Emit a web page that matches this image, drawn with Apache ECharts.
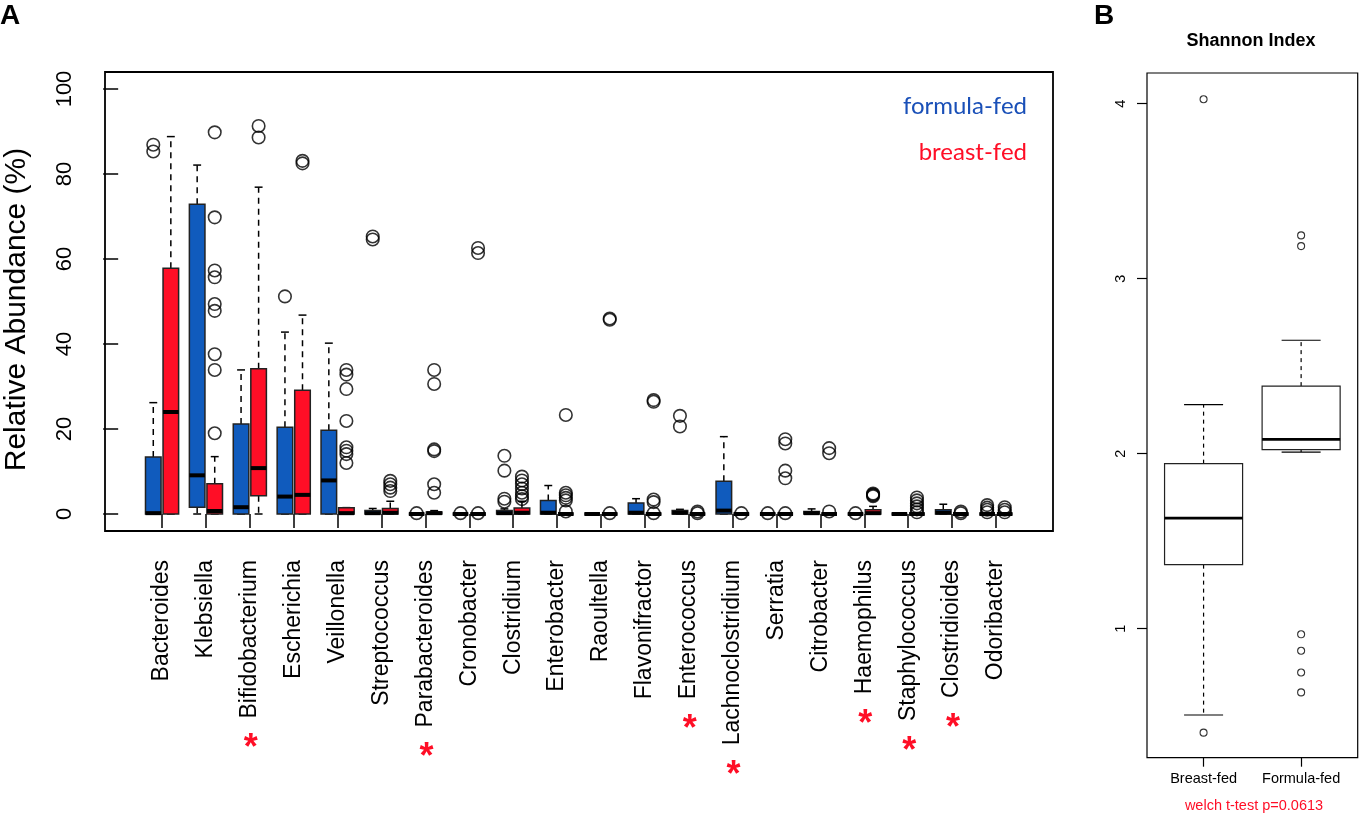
<!DOCTYPE html>
<html>
<head>
<meta charset="utf-8">
<script src="https://cdn.jsdelivr.net/npm/echarts@6/dist/echarts.min.js"></script>
<style>
html,body{margin:0;padding:0;background:#fff;}
#main{width:1359px;height:815px;}
</style>
</head>
<body>
<div id="main"></div>
<script>
// ---------- Panel A data ----------
const genera = ['Bacteroides','Klebsiella','Bifidobacterium','Escherichia','Veillonella','Streptococcus','Parabacteroides','Cronobacter','Clostridium','Enterobacter','Raoultella','Flavonifractor','Enterococcus','Lachnoclostridium','Serratia','Citrobacter','Haemophilus','Staphylococcus','Clostridioides','Odoribacter'];
const significant = ['Bifidobacterium','Parabacteroides','Enterococcus','Lachnoclostridium','Haemophilus','Staphylococcus','Clostridioides'];
// [min, q1, median, q3, max]
const formulaStats = [
  [0, 0, 0.2, 13.4, 26.2],
  [0, 1.6, 9.1, 72.9, 82.1],
  [0, 0, 1.6, 21.2, 33.9],
  [0, 0, 4.1, 20.4, 42.8],
  [0, 0, 7.9, 19.7, 40.2],
  [0, 0, 0.2, 0.8, 1.3],
  [0, 0, 0, 0, 0],
  [0, 0, 0, 0, 0],
  [0, 0, 0.2, 0.8, 1.2],
  [0, 0, 0.3, 3.2, 6.7],
  [0, 0, 0, 0, 0],
  [0, 0, 0.3, 2.6, 3.6],
  [0, 0, 0.3, 0.8, 1.1],
  [0, 0, 0.8, 7.7, 18.2],
  [0, 0, 0, 0, 0],
  [0, 0, 0.2, 0.6, 1.2],
  [0, 0, 0, 0, 0],
  [0, 0, 0, 0, 0],
  [0, 0, 0.3, 1.0, 2.3],
  [0, 0, 0, 0, 0]
];
const breastStats = [
  [0, 0, 24.0, 57.8, 88.8],
  [0, 0, 0.7, 7.1, 13.5],
  [0, 4.3, 10.8, 34.2, 76.9],
  [0, 0, 4.5, 29.1, 46.8],
  [0, 0, 0.2, 1.5, 1.5],
  [0, 0, 0.3, 1.3, 3.0],
  [0, 0, 0.2, 0.5, 0.8],
  [0, 0, 0, 0, 0],
  [0, 0, 0.3, 1.4, 3.0],
  [0, 0, 0, 0, 0],
  [0, 0, 0, 0, 0],
  [0, 0, 0, 0, 0],
  [0, 0, 0, 0, 0],
  [0, 0, 0, 0, 0],
  [0, 0, 0, 0, 0],
  [0, 0, 0, 0, 0],
  [0, 0, 0.2, 1.0, 1.8],
  [0, 0, 0, 0, 0],
  [0, 0, 0, 0, 0],
  [0, 0, 0, 0, 0]
];
const formulaOutliers = [
  [86.9, 85.3], [], [], [51.2], [], [65.3, 64.6], [0.2], [0.2],
  [13.7, 10.2, 3.6, 2.9], [], [], [], [23.1, 20.6], [], [0.2], [], [0.2], [], [],
  [2.1, 1.5, 1.0, 0.4]
];
const breastOutliers = [
  [],
  [89.8, 69.8, 57.3, 55.7, 49.4, 47.8, 37.6, 33.9, 19.0],
  [91.3, 88.6],
  [83.1, 82.5],
  [33.9, 32.8, 29.4, 21.9, 15.7, 14.9, 14.1, 12.0],
  [7.8, 7.0, 6.2, 5.4],
  [33.9, 30.6, 15.2, 14.8, 7.0, 5.0],
  [62.6, 61.4, 0.2],
  [8.8, 7.9, 7.0, 6.0, 5.0, 4.2, 3.5],
  [23.3, 5.0, 4.4, 3.8, 3.2, 0.6],
  [46.0, 45.7, 0.2],
  [26.8, 26.4, 3.4, 2.8, 0.2],
  [0.6, 0.2],
  [0.2],
  [17.6, 16.6, 10.2, 8.4, 0.2],
  [15.5, 14.3, 0.6],
  [4.8, 4.6, 4.4, 4.2],
  [3.9, 3.2, 2.5, 1.8, 1.1, 0.4],
  [0.6, 0.2],
  [1.6, 1.0, 0.4]
];
const yTicksA = [0, 20, 40, 60, 80, 100];

// ---------- Panel B data ----------
const shannonGroups = ['Breast-fed', 'Formula-fed'];
const shannonStats = [
  [0.507, 1.366, 1.632, 1.943, 2.28],
  [2.009, 2.023, 2.082, 2.386, 2.648]
];
const shannonOutliers = [
  [4.025, 0.406],
  [3.247, 3.186, 0.968, 0.874, 0.750, 0.636]
];
const yTicksB = [1, 2, 3, 4];

// ---------- styling ----------
const BLUE = '#105bbd';
const RED = '#ff0e26';
const FONT = '"Liberation Sans", Arial, sans-serif';

function boxRenderer(boxW, capW, fill, lineW, medW, dash) {
  return function (params, api) {
    const x = api.value(0);
    const pMin = api.coord([x, api.value(1)]);
    const pQ1 = api.coord([x, api.value(2)]);
    const pMed = api.coord([x, api.value(3)]);
    const pQ3 = api.coord([x, api.value(4)]);
    const pMax = api.coord([x, api.value(5)]);
    const hw = api.size([boxW, 0])[0] / 2;
    const hc = api.size([capW, 0])[0] / 2;
    const cx = pMed[0];
    const black = '#000';
    return {
      type: 'group',
      children: [
        {type: 'line', shape: {x1: cx, y1: pQ3[1], x2: cx, y2: pMax[1]}, style: {stroke: black, lineWidth: lineW, lineDash: dash}},
        {type: 'line', shape: {x1: cx, y1: pQ1[1], x2: cx, y2: pMin[1]}, style: {stroke: black, lineWidth: lineW, lineDash: dash}},
        {type: 'line', shape: {x1: cx - hc, y1: pMax[1], x2: cx + hc, y2: pMax[1]}, style: {stroke: black, lineWidth: lineW}},
        {type: 'line', shape: {x1: cx - hc, y1: pMin[1], x2: cx + hc, y2: pMin[1]}, style: {stroke: black, lineWidth: lineW}},
        {type: 'rect', shape: {x: cx - hw, y: pQ3[1], width: 2 * hw, height: pQ1[1] - pQ3[1]}, style: {fill: fill, stroke: '#222', lineWidth: lineW}},
        {type: 'line', shape: {x1: cx - hw, y1: pMed[1], x2: cx + hw, y2: pMed[1]}, style: {stroke: black, lineWidth: medW}}
      ]
    };
  };
}

const OFF = 0.2;
function boxData(stats, off) { return stats.map((s, i) => [i + 1 + off].concat(s)); }
function outData(outs, off) {
  const d = [];
  outs.forEach((arr, i) => arr.forEach(v => d.push([i + 1 + off, v])));
  return d;
}

const catPos = genera.map((_, i) => i + 1);
const grpPos = shannonGroups.map((_, i) => i + 1);

const baseGraphics = [
  {type: 'text', id: 'lblA', x: 0, y: 16, style: {text: 'A', font: 'bold 28px ' + FONT, fill: '#000', align: 'left', verticalAlign: 'middle'}},
  {type: 'text', id: 'lblB', x: 1094, y: 16, style: {text: 'B', font: 'bold 28px ' + FONT, fill: '#000', align: 'left', verticalAlign: 'middle'}},
  {type: 'text', id: 'legF', x: 1027, y: 106, style: {text: 'formula-fed', font: '24px Lato, "Open Sans", sans-serif', fill: '#1a50b8', align: 'right', verticalAlign: 'middle'}},
  {type: 'text', id: 'legB', x: 1027, y: 152, style: {text: 'breast-fed', font: '24px Lato, "Open Sans", sans-serif', fill: RED, align: 'right', verticalAlign: 'middle'}},
  {type: 'text', id: 'titB', x: 1251, y: 41, style: {text: 'Shannon Index', font: 'bold 18px ' + FONT, fill: '#000', align: 'center', verticalAlign: 'middle'}},
  {type: 'text', id: 'welch', x: 1254, y: 806, style: {text: 'welch t-test p=0.0613', font: '14.5px ' + FONT, fill: RED, align: 'center', verticalAlign: 'middle'}}
];

const chart = echarts.init(document.getElementById('main'), null, {renderer: 'canvas'});
const option = {
  animation: false,
  backgroundColor: '#fff',
  textStyle: {fontFamily: FONT},
  grid: [
    {left: 105, top: 72, width: 948, height: 459, show: true, borderColor: '#000', borderWidth: 1.8, backgroundColor: 'transparent', containLabel: false, outerBoundsMode: 'none'},
    {left: 1147, top: 73, width: 210.7, height: 684.7, show: true, borderColor: '#000', borderWidth: 1.2, backgroundColor: 'transparent', containLabel: false, outerBoundsMode: 'none'}
  ],
  xAxis: [
    {
      gridIndex: 0, type: 'value', min: -0.3, max: 21.3,
      axisLine: {show: false}, splitLine: {show: false},
      axisTick: {show: true, customValues: catPos, length: 14, lineStyle: {color: '#000', width: 1.5}},
      axisLabel: {customValues: catPos, rotate: 90, margin: 29, fontSize: 23, color: '#000', fontFamily: FONT,
        formatter: v => genera[Math.round(v) - 1] || ''}
    },
    {
      gridIndex: 1, type: 'value', min: 0.42, max: 2.58,
      axisLine: {show: false}, splitLine: {show: false},
      axisTick: {show: true, customValues: grpPos, length: 9, lineStyle: {color: '#000', width: 1.2}},
      axisLabel: {customValues: grpPos, margin: 14, fontSize: 14.5, color: '#000', fontFamily: FONT,
        formatter: v => shannonGroups[Math.round(v) - 1] || ''}
    }
  ],
  yAxis: [
    {
      gridIndex: 0, type: 'value', min: -4, max: 104,
      axisLine: {show: false}, splitLine: {show: false},
      axisTick: {show: true, customValues: yTicksA, length: 15, lineStyle: {color: '#000', width: 1.5}},
      axisLabel: {customValues: yTicksA, rotate: 90, margin: 29, fontSize: 22, color: '#000', fontFamily: FONT},
      name: 'Relative Abundance (%)', nameLocation: 'middle', nameRotate: 90, nameGap: 73,
      nameTextStyle: {fontSize: 30, color: '#000', fontFamily: FONT, padding: [0, 16, 0, 0]}
    },
    {
      gridIndex: 1, type: 'value', min: 0.263, max: 4.175,
      axisLine: {show: false}, splitLine: {show: false},
      axisTick: {show: true, customValues: yTicksB, length: 10, lineStyle: {color: '#000', width: 1.2}},
      axisLabel: {customValues: yTicksB, rotate: 90, margin: 19, fontSize: 14.5, color: '#000', fontFamily: FONT}
    }
  ],
  series: [
    {type: 'custom', name: 'formula-fed', xAxisIndex: 0, yAxisIndex: 0, data: boxData(formulaStats, -OFF),
      encode: {x: 0, y: [1, 2, 3, 4, 5]}, renderItem: boxRenderer(0.355, 0.18, BLUE, 1.5, 4, [6, 5])},
    {type: 'custom', name: 'breast-fed', xAxisIndex: 0, yAxisIndex: 0, data: boxData(breastStats, OFF),
      encode: {x: 0, y: [1, 2, 3, 4, 5]}, renderItem: boxRenderer(0.355, 0.18, RED, 1.5, 4, [6, 5])},
    {type: 'scatter', xAxisIndex: 0, yAxisIndex: 0, data: outData(formulaOutliers, -OFF), symbol: 'circle', symbolSize: 12.5,
      itemStyle: {color: 'rgba(0,0,0,0)', borderColor: '#000', borderWidth: 1.6}, z: 5},
    {type: 'scatter', xAxisIndex: 0, yAxisIndex: 0, data: outData(breastOutliers, OFF), symbol: 'circle', symbolSize: 12.5,
      itemStyle: {color: 'rgba(0,0,0,0)', borderColor: '#000', borderWidth: 1.6}, z: 5},
    {type: 'custom', name: 'shannon', xAxisIndex: 1, yAxisIndex: 1, data: boxData(shannonStats, 0),
      encode: {x: 0, y: [1, 2, 3, 4, 5]}, renderItem: boxRenderer(0.8, 0.4, '#fff', 1.2, 2.6, [4, 4])},
    {type: 'scatter', xAxisIndex: 1, yAxisIndex: 1, data: outData(shannonOutliers, 0), symbol: 'circle', symbolSize: 7,
      itemStyle: {color: 'rgba(0,0,0,0)', borderColor: '#000', borderWidth: 1.1}, z: 5}
  ],
  graphic: {elements: baseGraphics}
};
chart.setOption(option);

// red significance asterisks below the rotated labels
const cnv = document.createElement('canvas');
const ctx = cnv.getContext('2d');
ctx.font = '23px "Liberation Sans"';
const axisBottom = 72 + 459;
const starGraphics = [];
genera.forEach((g, i) => {
  if (significant.indexOf(g) < 0) return;
  const px = chart.convertToPixel({xAxisIndex: 0}, i + 1);
  const w = ctx.measureText(g).width;
  starGraphics.push({type: 'text', id: 'star' + i, x: px + 1, y: axisBottom + 29 + w + 21 + 10,
    style: {text: '*', font: 'bold 36px ' + FONT, fill: RED, align: 'center', verticalAlign: 'middle'}});
});
chart.setOption({graphic: {elements: baseGraphics.concat(starGraphics)}});
</script>
</body>
</html>
